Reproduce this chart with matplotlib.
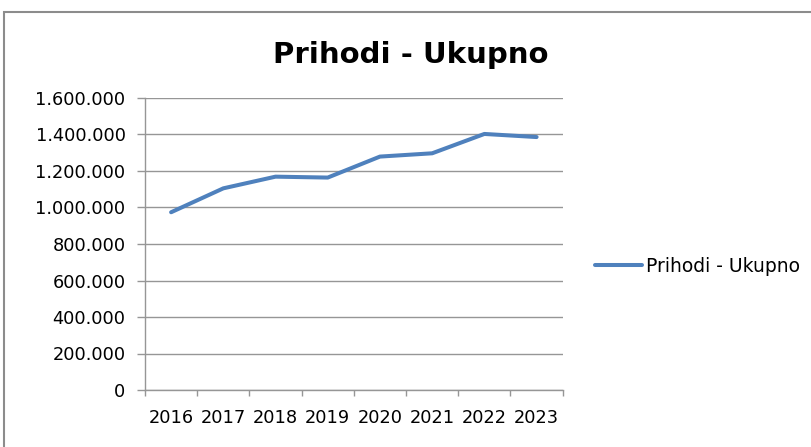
import matplotlib
matplotlib.use("Agg")
import matplotlib.pyplot as plt
from matplotlib.patches import Rectangle
from matplotlib.ticker import FuncFormatter, FixedLocator

years = ["2016", "2017", "2018", "2019", "2020", "2021", "2022", "2023"]
prihodi = [974000, 1105000, 1169000, 1164000, 1279000, 1297000, 1403000, 1386000]
series_name = "Prihodi - Ukupno"
title = "Prihodi - Ukupno"

plt.rcParams['font.family'] = ['DejaVu Sans']

fig = plt.figure(figsize=(8.12, 4.47), dpi=100)
ax = fig.add_axes([145/812, 1-390/447, (562.7-145)/812, (390-98)/447])

# outer chart border
fig.patches.append(Rectangle((4.5/812, -0.2), 1.2, (447-11.5)/447 + 0.2,
                             transform=fig.transFigure, fill=False,
                             edgecolor="#8c8c8c", linewidth=1.5))

x = list(range(len(years)))
ax.plot(x, prihodi, color="#4F81BD", linewidth=2.9, solid_capstyle="round",
        label=series_name)

ax.set_xlim(-0.5, len(years) - 0.5)
ax.set_ylim(0, 1600000)
ax.set_yticks(range(0, 1600001, 200000))
ax.yaxis.set_major_formatter(FuncFormatter(lambda v, p: "0" if v == 0 else f"{int(v):,}".replace(",", ".")))
ax.grid(axis="y", color="#969696", linewidth=1)
ax.set_axisbelow(True)

ax.set_xticks(x)
ax.set_xticklabels(years)
ax.xaxis.set_minor_locator(FixedLocator([i - 0.5 for i in range(len(years) + 1)]))
ax.tick_params(axis="x", which="major", length=0, pad=14, labelsize=12.8, colors="black")
ax.tick_params(axis="x", which="minor", length=4.5, color="#969696", width=1)
ax.tick_params(axis="y", length=6, color="#969696", width=1, labelsize=12.8, pad=8, colors="black")
ax.tick_params(axis="y", color="#969696")

for s in ["top", "right"]:
    ax.spines[s].set_visible(False)
for s in ["left", "bottom"]:
    ax.spines[s].set_color("#969696")
    ax.spines[s].set_linewidth(1)

fig.text(410.5/812, 1-63/447, title, ha="center", va="baseline",
         fontsize=21, fontweight="bold", color="black")

ax.legend(loc="center left", bbox_to_anchor=(595/812, 1-266/447),
          bbox_transform=fig.transFigure, frameon=False, fontsize=13.5,
          handlelength=2.5, handletextpad=0.2, borderaxespad=0, borderpad=0)

fig.savefig("out.png", dpi=100)
